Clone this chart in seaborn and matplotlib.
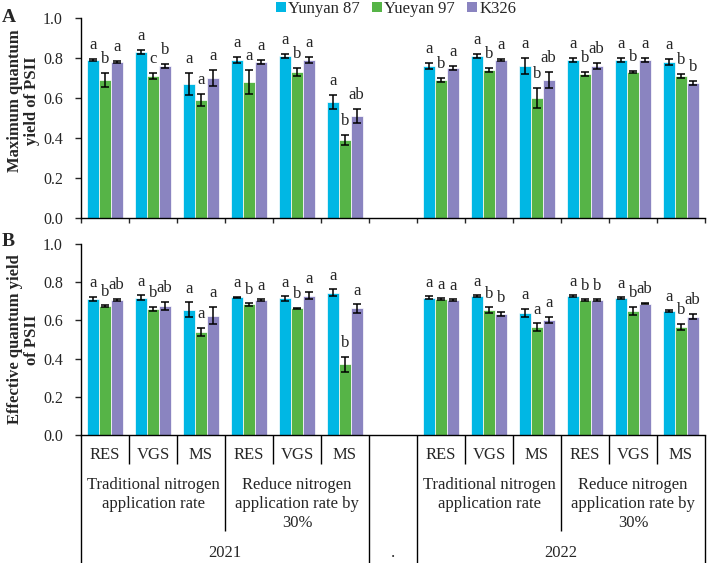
import numpy as np
import pandas as pd
import matplotlib
matplotlib.use("Agg")
import matplotlib.pyplot as plt
import matplotlib.transforms as mtransforms
from matplotlib.patches import Patch
import seaborn as sns

# ---------------- data ----------------
cultivars = ["Yunyan 87", "Yueyan 97", "K326"]
years = ["2021", "2022"]
n_levels = ["Traditional nitrogen\napplication rate", "Reduce nitrogen\napplication rate by\n30%"]
stages = ["RES", "VGS", "MS"]
gap_label = "."

# Panel A: maximum quantum yield of PSII (12 groups: 2021 trad RES,VGS,MS; 2021 red...; 2022 ...)
fvfm_y87  = [0.79, 0.83, 0.67, 0.79, 0.81, 0.58,  0.76, 0.81, 0.76, 0.79, 0.79, 0.78]
fvfm_y97  = [0.69, 0.71, 0.59, 0.68, 0.73, 0.39,  0.69, 0.74, 0.60, 0.72, 0.73, 0.71]
fvfm_k326 = [0.78, 0.76, 0.70, 0.78, 0.79, 0.51,  0.75, 0.79, 0.69, 0.76, 0.79, 0.675]
fvfm_err_y87  = [0.005, 0.008, 0.055, 0.015, 0.010, 0.035,  0.015, 0.012, 0.040, 0.010, 0.012, 0.015]
fvfm_err_y97  = [0.035, 0.015, 0.030, 0.060, 0.020, 0.025,  0.008, 0.008, 0.050, 0.012, 0.003, 0.012]
fvfm_err_k326 = [0.005, 0.008, 0.040, 0.012, 0.015, 0.035,  0.012, 0.007, 0.040, 0.015, 0.010, 0.010]
fvfm_let_y87  = ["a", "a", "a", "a", "a", "a",  "a", "a", "a", "a", "a", "a"]
fvfm_let_y97  = ["b", "c", "a", "a", "b", "b",  "b", "b", "b", "b", "b", "b"]
fvfm_let_k326 = ["a", "b", "a", "a", "a", "ab", "a", "a", "ab", "ab", "a", "b"]

# Panel B: effective quantum yield of PSII
phi_y87  = [0.712, 0.719, 0.656, 0.720, 0.715, 0.745,  0.719, 0.726, 0.640, 0.726, 0.717, 0.648]
phi_y97  = [0.676, 0.660, 0.540, 0.684, 0.663, 0.370,  0.712, 0.653, 0.564, 0.707, 0.650, 0.566]
phi_k326 = [0.707, 0.677, 0.625, 0.707, 0.730, 0.663,  0.707, 0.634, 0.604, 0.707, 0.688, 0.620]
phi_err_y87  = [0.012, 0.012, 0.040, 0.004, 0.012, 0.018,  0.007, 0.006, 0.020, 0.006, 0.003, 0.005]
phi_err_y97  = [0.004, 0.010, 0.020, 0.006, 0.003, 0.040,  0.003, 0.015, 0.022, 0.003, 0.020, 0.015]
phi_err_k326 = [0.005, 0.020, 0.045, 0.003, 0.018, 0.022,  0.003, 0.010, 0.015, 0.003, 0.003, 0.015]
phi_let_y87  = ["a", "a", "a", "a", "a", "a",  "a", "a", "a", "a", "a", "a"]
phi_let_y97  = ["b", "b", "a", "b", "b", "b",  "a", "b", "a", "b", "b", "b"]
phi_let_k326 = ["ab", "ab", "a", "a", "a", "a",  "a", "b", "a", "b", "ab", "ab"]

colors = ["#00B7E4", "#56B447", "#8A84C0"]

# ---------------- build tables ----------------
keys = []
for yi, yr in enumerate(years):
    for ni in range(len(n_levels)):
        for st in stages:
            keys.append(f"{yr}|{ni}|{st}")
order = keys[:6] + ["gap"] + keys[6:]


def make_df(vals, errs, lets):
    rows = []
    for c, v, e, l in zip(cultivars, vals, errs, lets):
        for k, vv, ee, ll in zip(keys, v, e, l):
            rows.append(dict(cat=k, cultivar=c, val=vv, err=ee, let=ll))
    return pd.DataFrame(rows)


df_a = make_df([fvfm_y87, fvfm_y97, fvfm_k326],
               [fvfm_err_y87, fvfm_err_y97, fvfm_err_k326],
               [fvfm_let_y87, fvfm_let_y97, fvfm_let_k326])
df_b = make_df([phi_y87, phi_y97, phi_k326],
               [phi_err_y87, phi_err_y97, phi_err_k326],
               [phi_let_y87, phi_let_y97, phi_let_k326])

# ---------------- style ----------------
sns.set_style("ticks")
plt.rcParams["font.family"] = ["Liberation Serif", "DejaVu Serif"]
plt.rcParams["axes.linewidth"] = 1.0

fig = plt.figure(figsize=(7.08, 5.63), dpi=100)
ax_a = fig.add_axes([81 / 708, 1 - 218 / 563, 624 / 708, 200 / 563])
ax_b = fig.add_axes([81 / 708, 1 - 435 / 563, 624 / 708, 191 / 563])

GROUP_W = 0.73


def draw_panel(ax, df, ylabel, label_y):
    sns.barplot(data=df, x="cat", y="val", hue="cultivar", order=order,
                hue_order=cultivars, palette=colors, width=GROUP_W,
                errorbar=None, saturation=1, legend=False, ax=ax,
                edgecolor="white", linewidth=0.5)
    bw = GROUP_W / len(cultivars)
    for p in list(ax.patches):
        h = p.get_height()
        if not np.isfinite(h) or h == 0:
            continue
        xc = p.get_x() + p.get_width() / 2
        slot = int(round(xc))
        hi = int(round((xc - slot) / bw)) + 1
        if slot < 0 or slot >= len(order) or not (0 <= hi < len(cultivars)):
            continue
        sel = df[(df.cat == order[slot]) & (df.cultivar == cultivars[hi])]
        if sel.empty:
            continue
        row = sel.iloc[0]
        ax.errorbar(xc, row.val, yerr=row.err, fmt="none", ecolor="black",
                    elinewidth=1.1, capsize=2.6, capthick=1.1, zorder=5)
        ax.text(xc, row.val + row.err + 0.05, row["let"], ha="center",
                va="baseline", fontsize=12, zorder=6)
    ax.set_xlim(-0.5, len(order) - 0.5)
    ax.set_ylim(0, 1.0)
    ticks = np.arange(0, 1.01, 0.2)
    ax.set_yticks(ticks)
    ax.set_yticklabels([f"{t:.1f}" for t in ticks], fontsize=11.5)
    ax.set_xlabel("")
    ax.set_ylabel(ylabel, fontsize=12, fontweight="bold", linespacing=1.05)
    ax.yaxis.set_label_coords(-0.066, label_y)
    ax.tick_params(axis="y", direction="out", length=4, width=1, pad=9)
    for s in ["top", "right"]:
        ax.spines[s].set_visible(False)
    ax.spines["left"].set_color("black")
    ax.spines["bottom"].set_color("black")


draw_panel(ax_a, df_a, "Maximum quantum\nyield of PSII", 0.585)
draw_panel(ax_b, df_b, "Effective quantum yield\nof PSII", 0.5)

# top panel: ticks at slot boundaries
bounds = np.arange(-0.5, len(order), 1.0)
ax_a.set_xticks(bounds)
ax_a.set_xticklabels([])
ax_a.tick_params(axis="x", direction="out", length=3.5, width=1)

# bottom panel: hierarchical category axis
ax_b.set_xticks([])
trans = mtransforms.blended_transform_factory(ax_b.transData, ax_b.transAxes)
px = 1 / 191.0  # axes-fraction per pixel (bottom axes height in px)
y_short = -29 * px
y_group = -96 * px
y_full = -128 * px

slot_idx = {k: i for i, k in enumerate(order)}
for b in bounds:
    if b in (-0.5, 5.5, 6.5, 12.5):
        y_end = y_full
    elif b in (2.5, 9.5):
        y_end = y_group
    else:
        y_end = y_short
    ax_b.plot([b, b], [0, y_end], transform=trans, color="black", lw=1.0,
              clip_on=False, solid_capstyle="butt")

lab_fs = 12
for k in keys:
    st = k.split("|")[2]
    ax_b.text(slot_idx[k], -20 * px, st, transform=trans, ha="center",
              va="center", fontsize=lab_fs)

for yi, yr in enumerate(years):
    for ni, nl in enumerate(n_levels):
        idxs = [slot_idx[f"{yr}|{ni}|{st}"] for st in stages]
        xc = np.mean(idxs)
        for li, line in enumerate(nl.split("\n")):
            ax_b.text(xc, -(50 + 19 * li) * px, line, transform=trans,
                      ha="center", va="center", fontsize=lab_fs)
    idxs = [slot_idx[k] for k in keys if k.startswith(yr)]
    ax_b.text(np.mean(idxs), -118 * px, yr, transform=trans, ha="center",
              va="center", fontsize=lab_fs)
ax_b.text(slot_idx["gap"], -118 * px, gap_label, transform=trans, ha="center",
          va="center", fontsize=lab_fs)

# panel letters
fig.text(2 / 708, 1 - 22 / 563, "A", fontsize=14, fontweight="bold", ha="left", va="baseline")
fig.text(2 / 708, 1 - 246 / 563, "B", fontsize=14, fontweight="bold", ha="left", va="baseline")

# legend
handles = [Patch(facecolor=c, edgecolor="none") for c in colors]
fig.legend(handles, cultivars, loc="center", bbox_to_anchor=(396 / 708, 1 - 9 / 563),
           ncol=3, frameon=False, fontsize=12, handlelength=0.6, handleheight=0.6,
           handletextpad=0.15, columnspacing=0.7, borderpad=0)

fig.savefig("out.png", dpi=100)
